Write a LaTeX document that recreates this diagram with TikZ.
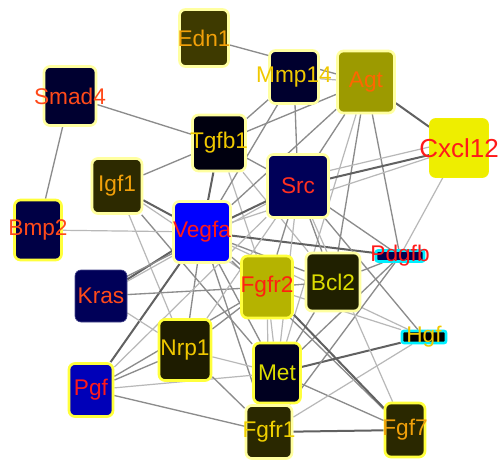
\documentclass[tikz,border=0pt]{standalone}
\usepackage{fontspec}
\setmainfont{Liberation Sans}
\usetikzlibrary{backgrounds}

\definecolor{txtred}{RGB}{255,26,26}
\definecolor{txtorg}{RGB}{255,74,26}
\definecolor{txtamb}{RGB}{240,160,10}
\definecolor{txtyel}{RGB}{240,200,0}
\definecolor{txtlem}{RGB}{220,220,0}
\definecolor{rimpale}{RGB}{255,255,160}
\definecolor{rimyel}{RGB}{255,255,60}
\definecolor{rimcyan}{RGB}{0,240,255}

\tikzset{every picture/.style={line width=0.75pt}}
\tikzset{
  gene/.style={rectangle, rounded corners=4.5pt, line width=2pt, draw=rimpale, inner sep=0pt},
  gtext/.style={font=\fontsize{17}{17}\selectfont, inner sep=0pt},
  tag/.style={rectangle, rounded corners=1.5pt, line width=2pt, draw=rimcyan, inner sep=0pt},
  lnk/.style={draw=black!45, line width=1pt},
  lnkd/.style={draw=black!62, line width=1.5pt},
  lnkl/.style={draw=black!28, line width=0.9pt}
}

\begin{document}
\begin{tikzpicture}[x=0.75pt,y=0.75pt,yscale=-1,xscale=1]
\useasboundingbox (0,0) rectangle (499,460);

% genes
\node[gene, fill={rgb,255:red,62;green,58;blue,0}, minimum width=36.75pt, minimum height=42.75pt,
  label={[gtext, text=txtamb]center:Edn1}] (edn1) at (204,38) {};
\node[gene, fill={rgb,255:red,0;green,0;blue,48}, minimum width=39pt, minimum height=44.25pt,
  label={[gtext, text=txtorg]center:Smad4}] (smad4) at (70,96) {};
\node[gene, fill={rgb,255:red,0;green,0;blue,46}, minimum width=36.75pt, minimum height=39.75pt,
  label={[gtext, text=txtyel]center:Mmp14}] (mmp14) at (294,77) {};
\node[gene, fill={rgb,255:red,156;green,154;blue,0}, minimum width=42.75pt, minimum height=46.5pt,
  label={[gtext, text={rgb,255:red,255;green,102;blue,0}]center:Agt}] (agt) at (366,82) {};
\node[gene, draw={rgb,255:red,242;green,240;blue,0}, line width=0.5pt, fill={rgb,255:red,238;green,238;blue,0}, minimum width=44.25pt, minimum height=44.25pt,
  label={[gtext, font=\fontsize{19.5}{19.5}\selectfont, text=txtred]center:Cxcl12}] (cxcl12) at (459,148) {};
\node[gene, fill={rgb,255:red,0;green,0;blue,15}, minimum width=39.75pt, minimum height=42pt,
  label={[gtext, text=txtyel]center:Tgfb1}] (tgfb1) at (219,143) {};
\node[gene, fill={rgb,255:red,45;green,42;blue,0}, minimum width=37.5pt, minimum height=41.25pt,
  label={[gtext, text=txtamb]center:Igf1}] (igf1) at (117,186) {};
\node[gene, fill={rgb,255:red,0;green,0;blue,88}, minimum width=45.75pt, minimum height=47.25pt,
  label={[gtext, text={rgb,255:red,255;green,48;blue,32}]center:Src}] (src) at (298,186) {};
\node[gene, draw=rimyel, fill={rgb,255:red,0;green,0;blue,69}, minimum width=35.25pt, minimum height=45pt,
  label={[gtext, text=txtorg]center:Bmp2}] (bmp2) at (38,230) {};
\node[gene, fill={rgb,255:red,0;green,0;blue,255}, minimum width=42.75pt, minimum height=45.75pt,
  label={[gtext, text=txtred]center:Vegfa}] (vegfa) at (202,232) {};
\node[gene, draw=rimyel, fill={rgb,255:red,181;green,179;blue,0}, minimum width=38.25pt, minimum height=46.5pt,
  label={[gtext, text={rgb,255:red,255;green,32;blue,16}]center:Fgfr2}] (fgfr2) at (267,287) {};
\node[gene, fill={rgb,255:red,32;green,32;blue,0}, minimum width=40.5pt, minimum height=43.5pt,
  label={[gtext, text=txtlem]center:Bcl2}] (bcl2) at (333,282) {};
\node[gene, draw={rgb,255:red,70;green,70;blue,140}, line width=0.5pt, fill={rgb,255:red,0;green,0;blue,88}, minimum width=39pt, minimum height=39pt,
  label={[gtext, text=txtorg]center:Kras}] (kras) at (101,296) {};
\node[gene, draw=rimyel, fill={rgb,255:red,30;green,28;blue,0}, minimum width=39pt, minimum height=45.75pt,
  label={[gtext, text=txtyel]center:Nrp1}] (nrp1) at (185,350) {};
\node[gene, draw=rimyel, fill={rgb,255:red,0;green,0;blue,32}, minimum width=35.25pt, minimum height=45pt,
  label={[gtext, text=txtlem]center:Met}] (met) at (277,373) {};
\node[gene, draw=rimyel, fill={rgb,255:red,0;green,0;blue,184}, minimum width=33pt, minimum height=39.75pt,
  label={[gtext, text=txtred]center:Pgf}] (pgf) at (91,390) {};
\node[gene, fill={rgb,255:red,42;green,40;blue,0}, minimum width=34.5pt, minimum height=39.75pt,
  label={[gtext, text={rgb,255:red,240;green,208;blue,0}]center:Fgfr1}] (fgfr1) at (269,432) {};
\node[gene, draw=rimyel, fill={rgb,255:red,42;green,40;blue,0}, minimum width=30pt, minimum height=40.5pt,
  label={[gtext, text=txtamb]center:Fgf7}] (fgf7) at (405,430) {};

% small tags
\node[tag, fill={rgb,255:red,0;green,0;blue,80}, minimum width=36pt, minimum height=8.25pt,
  label={[gtext, text=txtred]center:Pdgfb}] (pdgfb) at (400,256) {};
\node[tag, fill=black, minimum width=33pt, minimum height=9pt,
  label={[gtext, text=txtyel]center:Hgf}] (hgf) at (424,337) {};

\begin{scope}[on background layer]
\fill[white] (0,0) rectangle (499,460);
% interactions
\draw[lnk] (smad4) -- (tgfb1);
\draw[lnk] (smad4) -- (bmp2);
\draw[lnk] (edn1) -- (agt);
\draw[lnk] (igf1) -- (tgfb1);
\draw[lnkd] (igf1) -- (vegfa);
\draw[lnkl] (igf1) -- (fgfr2);
\draw[lnk] (igf1) -- (met);
\draw[lnkl] (igf1) -- (nrp1);
\draw[lnkd] (tgfb1) -- (vegfa);
\draw[lnk] (tgfb1) -- (src);
\draw[lnk] (tgfb1) -- (mmp14);
\draw[lnk] (tgfb1) -- (agt);
\draw[lnkl] (tgfb1) -- (fgfr2);
\draw[lnkl] (tgfb1) -- (bcl2);
\draw[lnk] (mmp14) -- (src);
\draw[lnk] (mmp14) -- (vegfa);
\draw[lnkl] (mmp14) -- (agt);
\draw[lnk] (agt) -- (src);
\draw[lnk] (agt) -- (vegfa);
\draw[lnkd] (agt) -- (cxcl12);
\draw[lnk] (agt) -- (bcl2);
\draw[lnk] (agt) -- (pdgfb);
\draw[lnkl] (agt) -- (met);
\draw[lnkl] ([yshift=-6]cxcl12.center) -- ([yshift=-6]src.center);
\draw[lnkd] (cxcl12) -- (src);
\draw[lnkl] (cxcl12) -- (vegfa);
\draw[lnkl] (cxcl12) -- (pdgfb);
\draw[lnkl] (bmp2) -- (vegfa);
\draw[lnkd] (vegfa) -- (src);
\draw[lnkd] (vegfa) -- (kras);
\draw[lnk] ([yshift=5]vegfa.center) -- ([yshift=-5]kras.center);
\draw[lnk] (vegfa) -- (nrp1);
\draw[lnkd] (vegfa) -- (pgf);
\draw[lnk] (vegfa) -- (fgfr2);
\draw[lnk] (vegfa) -- (met);
\draw[lnk] (vegfa) -- (fgfr1);
\draw[lnk] (vegfa) -- (bcl2);
\draw[lnkd] (vegfa) -- (pdgfb);
\draw[lnk] (vegfa) -- (fgf7);
\draw[lnkl] (vegfa) -- (hgf);
\draw[lnk] (kras) -- (fgfr2);
\draw[lnkl] (kras) -- (nrp1);
\draw[lnkl] (kras) -- (src);
\draw[lnk] (pgf) -- (nrp1);
\draw[lnkl] (pgf) -- (met);
\draw[lnk] (pgf) -- (fgfr1);
\draw[lnk] (pgf) -- (fgfr2);
\draw[lnkl] (pgf) -- (src);
\draw[lnk] (nrp1) -- (fgfr2);
\draw[lnkl] (nrp1) -- (met);
\draw[lnk] (nrp1) -- (fgfr1);
\draw[lnkl] (nrp1) -- (src);
\draw[lnkd] (met) -- (hgf);
\draw[lnk] (met) -- (fgfr1);
\draw[lnk] (met) -- (bcl2);
\draw[lnk] (met) -- (pdgfb);
\draw[lnk] (met) -- (fgf7);
\draw[lnkl] (met) -- (fgfr2);
\draw[lnkd] (fgfr1) -- (fgf7);
\draw[lnkl] (fgfr1) -- (hgf);
\draw[lnk] (fgfr1) -- (pdgfb);
\draw[lnkl] (fgfr1) -- (fgfr2);
\draw[lnkd] (fgfr2) -- (fgf7);
\draw[lnk] (fgfr2) -- (bcl2);
\draw[lnk] (fgfr2) -- (src);
\draw[lnkl] (fgfr2) -- (hgf);
\draw[lnk] (src) -- (bcl2);
\draw[lnk] (src) -- (pdgfb);
\draw[lnk] (src) -- (hgf);
\draw[lnkl] (src) -- (met);
\draw[lnk] (bcl2) -- (pdgfb);
\draw[lnkl] (src) -- (fgf7);
\end{scope}

\end{tikzpicture}
\end{document}
